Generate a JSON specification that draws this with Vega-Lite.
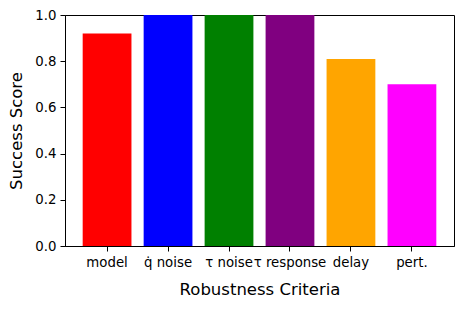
{
  "$schema": "https://vega.github.io/schema/vega-lite/v6.json",
  "autosize": "none",
  "width": 389,
  "height": 231,
  "padding": {"left": 65, "top": 15, "right": 8, "bottom": 63},
  "background": "white",
  "config": {
    "font": "DejaVu Sans",
    "view": {"stroke": "black", "strokeWidth": 1},
    "axis": {
      "domainColor": "black",
      "tickColor": "black",
      "tickSize": 5,
      "labelColor": "black",
      "titleColor": "black",
      "labelFontSize": 13.3,
      "titleFontSize": 16.5,
      "titleFontWeight": "normal",
      "grid": false,
      "labelFont": "DejaVu Sans",
      "titleFont": "DejaVu Sans"
    }
  },
  "data": {
    "values": [
      {"criterion": "model", "score": 0.92, "color": "#ff0000"},
      {"criterion": "q̇ noise", "score": 1.0, "color": "#0000ff"},
      {"criterion": "τ noise", "score": 1.0, "color": "#008000"},
      {"criterion": "τ response", "score": 1.0, "color": "#800080"},
      {"criterion": "delay", "score": 0.81, "color": "#ffa500"},
      {"criterion": "pert.", "score": 0.70, "color": "#ff00ff"}
    ]
  },
  "mark": {"type": "bar"},
  "encoding": {
    "x": {
      "field": "criterion",
      "type": "nominal",
      "sort": null,
      "scale": {"paddingInner": 0.2, "paddingOuter": 0.29},
      "axis": {"title": "Robustness Criteria", "labelAngle": 0, "labelPadding": 4, "titlePadding": 13, "labelOverlap": false}
    },
    "y": {
      "field": "score",
      "type": "quantitative",
      "scale": {"domain": [0, 1], "nice": false},
      "axis": {"title": "Success Score", "values": [0, 0.2, 0.4, 0.6, 0.8, 1.0], "format": ".1f", "labelPadding": 4, "titlePadding": 10}
    },
    "color": {"field": "color", "type": "nominal", "scale": null, "legend": null}
  }
}
